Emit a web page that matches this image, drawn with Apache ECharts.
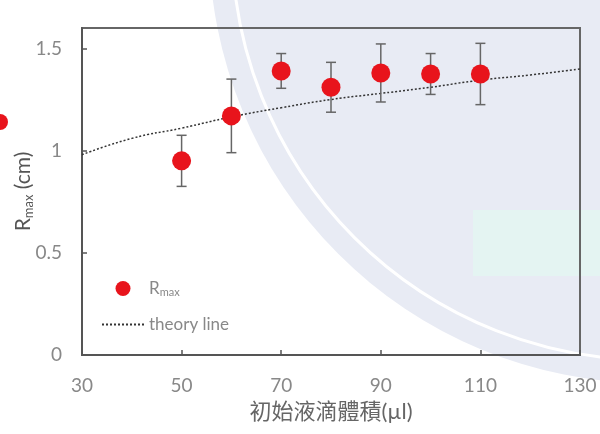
<!DOCTYPE html>
<html>
<head>
<meta charset="utf-8">
<script src="https://cdn.jsdelivr.net/npm/echarts@6/dist/echarts.min.js"></script>
<style>html,body{margin:0;padding:0;background:#fff;}#chart{width:600px;height:434px;}</style>
</head>
<body>
<div id="chart"></div>
<script>
// Measured droplet data
const volumes = [50, 60, 70, 80, 90, 100, 110];
const rmaxValues = [0.95, 1.17, 1.39, 1.31, 1.38, 1.375, 1.375];
const rmaxErrors = [0.125, 0.18, 0.085, 0.122, 0.142, 0.10, 0.15];
// Theory line
const theoryX = [30, 40, 50, 60, 70, 80, 90, 100, 110, 120, 130];
const theoryY = [0.98, 1.06, 1.11, 1.165, 1.21, 1.25, 1.28, 1.31, 1.345, 1.37, 1.40];
// Axis ticks
const xTicks = { min: 30, max: 130, interval: 20 };
const yTicks = { min: 0, max: 1.6, interval: 0.5 };

const FONT = 'Lato, "Noto Sans CJK TC", sans-serif';
const chart = echarts.init(document.getElementById('chart'), null, { renderer: 'canvas' });

const scatterData = volumes.map((v, i) => [v, rmaxValues[i]]);
const errData = volumes.map((v, i) => [v, rmaxValues[i] - rmaxErrors[i], rmaxValues[i] + rmaxErrors[i]]);
const theoryData = theoryX.map((v, i) => [v, theoryY[i]]);

chart.setOption({
  backgroundColor: '#ffffff',
  animation: false,
  graphic: [
    { type: 'circle', z: -10, silent: true, shape: { cx: 650, cy: -58, r: 441 }, style: { fill: '#e8ebf4' } },
    { type: 'circle', z: -9, silent: true, shape: { cx: 650, cy: -58, r: 418 }, style: { fill: null, stroke: '#ffffff', lineWidth: 3 } },
    { type: 'rect', z: -8, silent: true, shape: { x: 473, y: 210, width: 127, height: 66 }, style: { fill: '#e4f4f2' } },
    { type: 'circle', z: -8, silent: true, shape: { cx: 0, cy: 122, r: 8 }, style: { fill: '#e8141c' } }
  ],
  grid: {
    left: 82, right: 20, top: 28, bottom: 79, show: true, borderColor: '#666', borderWidth: 2,
    backgroundColor: 'transparent', containLabel: false, outerBoundsMode: 'none'
  },
  legend: {
    left: 96, top: 275, orient: 'vertical', itemWidth: 42, itemHeight: 15, itemGap: 18,
    textStyle: {
      fontFamily: FONT, fontSize: 17, color: '#888',
      rich: {
        r: { fontFamily: FONT, fontSize: 17, color: '#888' },
        s: { fontFamily: FONT, fontSize: 11, color: '#888', verticalAlign: 'bottom', padding: [8, 0, 0, 0] }
      }
    },
    formatter: function (name) { return name === 'Rmax' ? '{r|R}{s|max}' : name; },
    data: [
      { name: 'Rmax' },
      { name: 'theory line', itemStyle: { opacity: 0 } }
    ]
  },
  xAxis: {
    type: 'value', min: xTicks.min, max: xTicks.max, interval: xTicks.interval,
    name: '初始液滴體積(µl)', nameLocation: 'middle', nameGap: 46,
    nameTextStyle: { fontFamily: FONT, fontSize: 22, color: '#666' },
    axisLine: { show: true, lineStyle: { color: '#555', width: 2 } },
    axisTick: { show: true, inside: true, length: 5, lineStyle: { color: '#555', width: 1.5 } },
    axisLabel: { fontFamily: FONT, fontSize: 19, color: '#888', margin: 21 },
    splitLine: { show: false }
  },
  yAxis: {
    type: 'value', min: yTicks.min, max: yTicks.max, interval: yTicks.interval,
    name: '{r|R}{s|max}{r| (cm)}', nameLocation: 'middle', nameGap: 47, nameMoveOverlap: false,
    nameTextStyle: {
      fontFamily: FONT, fontSize: 21, color: '#555',
      rich: {
        r: { fontFamily: FONT, fontSize: 21, color: '#555' },
        s: { fontFamily: FONT, fontSize: 13, color: '#555', verticalAlign: 'bottom', padding: [10, 0, 0, 0] }
      }
    },
    axisLine: { show: true, lineStyle: { color: '#555', width: 2 } },
    axisTick: { show: true, inside: true, length: 5, lineStyle: { color: '#555', width: 1.5 } },
    axisLabel: {
      fontFamily: FONT, fontSize: 19, color: '#888', margin: 20,
      showMaxLabel: false,
      formatter: function (v) { return Math.abs(v - 1.6) < 1e-6 ? '' : String(v); }
    },
    splitLine: { show: false }
  },
  series: [
    {
      name: 'theory line', type: 'line', data: theoryData, smooth: true, symbol: 'none', z: 2,
      lineStyle: { color: '#333', width: 1.5, type: [2, 2] },
      itemStyle: { color: '#333' }
    },
    {
      name: 'errorbars', type: 'custom', z: 3, data: errData,
      renderItem: function (params, api) {
        const x = api.value(0);
        const lo = api.coord([x, api.value(1)]);
        const hi = api.coord([x, api.value(2)]);
        const hw = 5;
        const st = { stroke: '#666', lineWidth: 1.5, fill: null };
        return {
          type: 'group', children: [
            { type: 'line', shape: { x1: lo[0], y1: lo[1], x2: hi[0], y2: hi[1] }, style: st },
            { type: 'line', shape: { x1: lo[0] - hw, y1: lo[1], x2: lo[0] + hw, y2: lo[1] }, style: st },
            { type: 'line', shape: { x1: hi[0] - hw, y1: hi[1], x2: hi[0] + hw, y2: hi[1] }, style: st }
          ]
        };
      }
    },
    {
      name: 'Rmax', type: 'scatter', data: scatterData, symbol: 'circle', symbolSize: 19, z: 4,
      itemStyle: { color: '#e8141c', opacity: 1 }
    }
  ]
});
</script>
</body>
</html>
